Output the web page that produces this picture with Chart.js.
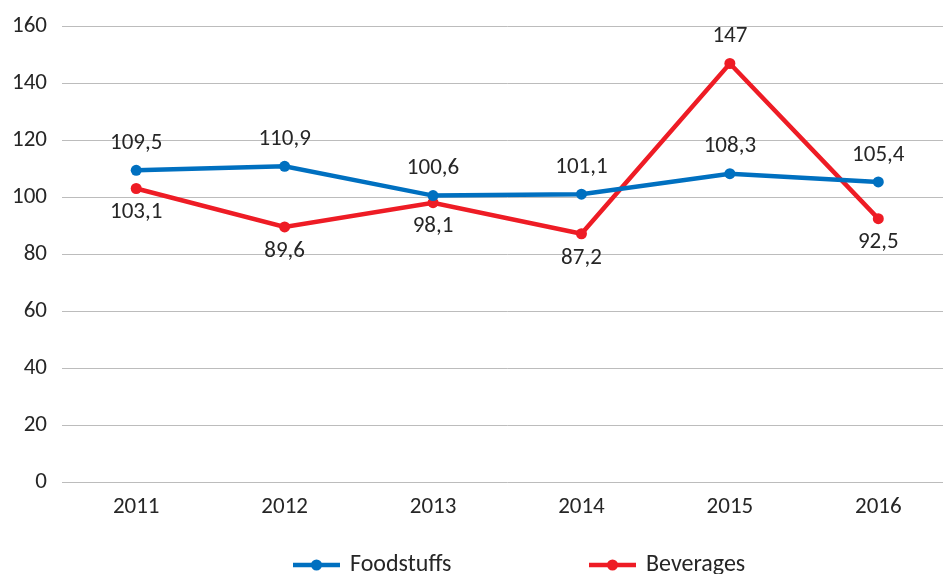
<!DOCTYPE html>
<html>
<head>
<meta charset="utf-8">
<script src="https://cdn.jsdelivr.net/npm/chart.js@4/dist/chart.umd.min.js"></script>
<style>
  html,body{margin:0;padding:0;background:#fff;overflow:hidden;}
  #wrap{width:958px;height:574px;position:relative;}
</style>
</head>
<body>
<div id="wrap"><canvas id="ch"></canvas></div>
<script>
// ── DATA ──
const years=['2011','2012','2013','2014','2015','2016'];
const foodstuffs=[109.5,110.9,100.6,101.1,108.3,105.4];
const beverages=[103.1,89.6,98.1,87.2,147,92.5];
// where each value label sits relative to its point
const foodPos=['above','above','above','above','above','above'];
const bevPos=['below','below','below','below','above','below'];

const BLUE='#0070c0', RED='#ee1c25';
const FONT='Carlito, Lato, "Open Sans", sans-serif';
const FS=23;
const txt='#262626';

const fmt=v=>String(v).replace('.',',');

// value labels + legend, drawn by hand
const labelsPlugin={
  id:'vlabels',
  afterDatasetsDraw(chart){
    const ctx=chart.ctx;
    ctx.save();
    ctx.font=FS+'px '+FONT;
    ctx.fillStyle=txt;
    ctx.textAlign='center';
    ctx.textBaseline='middle';
    chart.data.datasets.forEach((ds,i)=>{
      const meta=chart.getDatasetMeta(i);
      meta.data.forEach((pt,j)=>{
        const dy=ds.pos[j]==='above'?-27:24;
        ctx.fillText(fmt(ds.data[j]),pt.x,pt.y+dy);
      });
    });
    // legend
    const ly=565;
    const items=[{x:293,l:'Foodstuffs',c:BLUE},{x:589,l:'Beverages',c:RED}];
    ctx.font='24px '+FONT;
    items.forEach(it=>{
      ctx.strokeStyle=it.c; ctx.lineWidth=4.5;
      ctx.beginPath(); ctx.moveTo(it.x,ly); ctx.lineTo(it.x+47,ly); ctx.stroke();
      ctx.fillStyle=it.c;
      ctx.beginPath(); ctx.arc(it.x+23.5,ly,5.5,0,Math.PI*2); ctx.fill();
      ctx.fillStyle=txt; ctx.textAlign='left';
      ctx.fillText(it.l,it.x+57,ly);
    });
    ctx.restore();
  }
};

new Chart(document.getElementById('ch'),{
  type:'line',
  data:{ labels:years, datasets:[
    { label:'Foodstuffs', data:foodstuffs, pos:foodPos, borderColor:BLUE, backgroundColor:BLUE,
      borderWidth:4.5, pointRadius:5.5, pointBackgroundColor:BLUE, pointBorderWidth:0, tension:0 },
    { label:'Beverages', data:beverages, pos:bevPos, borderColor:RED, backgroundColor:RED,
      borderWidth:4.5, pointRadius:5.5, pointBackgroundColor:RED, pointBorderWidth:0, tension:0 }
  ]},
  options:{
    responsive:true, maintainAspectRatio:false, animation:false,
    layout:{ padding:{top:20,right:1,bottom:0,left:0} },
    plugins:{ legend:{display:false}, tooltip:{enabled:false} },
    scales:{
      x:{ offset:true,
        grid:{display:false}, border:{display:false},
        ticks:{color:txt, font:{size:FS,family:FONT}, padding:3},
        afterFit:s=>{ s.height=92; } },
      y:{ min:0, max:160,
        grid:{color:'#bcbcbc', lineWidth:1, drawTicks:false}, border:{display:false},
        ticks:{stepSize:20, color:txt, font:{size:FS,family:FONT,lineHeight:1}, padding:15},
        afterFit:s=>{ s.width=62; } }
    }
  },
  plugins:[labelsPlugin]
});
</script>
</body>
</html>
